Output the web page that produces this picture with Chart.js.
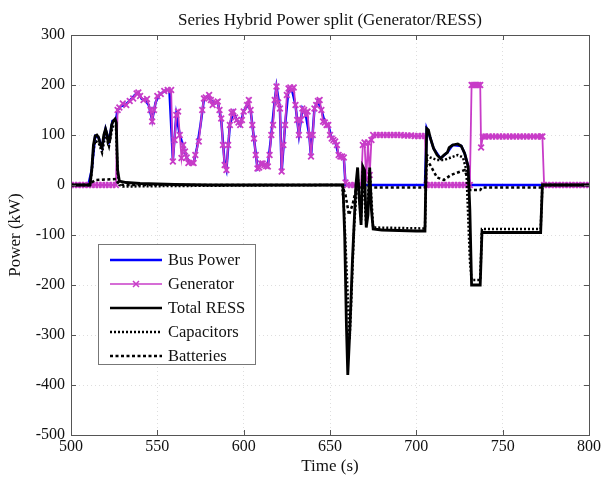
<!DOCTYPE html>
<html>
<head>
<meta charset="utf-8">
<script src="https://cdn.jsdelivr.net/npm/chart.js@4.4.1/dist/chart.umd.min.js"></script>
<style>
  html, body { margin: 0; padding: 0; background: #fff; }
  canvas { display: block; }
</style>
</head>
<body>
<canvas id="powerChart" width="603" height="478"></canvas>
<script>
// Generator output (kW)
var genTime = [500, 502, 504, 506, 508, 510, 512, 514, 516, 518, 520, 522, 524, 526,
  527, 528, 530, 532, 534, 536, 538, 539, 540, 542, 544, 546, 547, 548, 550, 552, 554, 556, 558,
  559, 560, 561, 562, 563, 564, 565, 566, 567, 568, 570, 571, 572, 574, 576, 577, 578, 580,
  581, 582, 584, 585, 586, 587, 588, 589, 590, 591, 592, 593, 594, 595, 596, 597, 598, 599, 600,
  602, 603, 604, 605, 606, 607, 608, 609, 610, 611, 612, 613, 614, 615, 616, 617, 618, 619, 620,
  621, 622, 623, 624, 625, 626, 627, 628, 629, 630, 631, 632, 633, 634, 635, 636, 637, 638, 639, 640,
  641, 642, 643, 644, 645, 646, 647, 648, 649, 650, 651, 652, 653, 654, 655, 656, 657, 658,
  659, 660, 662, 664, 666, 668, 669, 670, 671, 672, 673, 674,
  675, 677, 679, 681, 683, 685, 687, 689, 691, 693, 695, 697, 699, 701, 703, 705,
  706, 708, 710, 712, 714, 716, 718, 720, 722, 724, 726, 728, 730, 731,
  732, 733, 734, 735, 736, 737, 737.5, 738.5,
  740, 742, 744, 746, 748, 750, 752, 754, 756, 758, 760, 762, 764, 766, 768, 770, 772, 773,
  774, 776, 778, 780, 782, 784, 786, 788, 790, 792, 794, 796, 798, 800];
var genKW = [0, 0, 0, 0, 0, 0, 0, 0, 0, 0, 0, 0, 0, 0,
  150, 155, 163, 160, 168, 173, 183, 185, 178, 170, 172, 150, 127, 150, 178, 182, 188, 190, 190,
  47, 90, 140, 147, 100, 54, 80, 67, 55, 44, 45, 44, 60, 87, 150, 173, 175, 180,
  170, 160, 165, 167, 150, 133, 80, 40, 30, 80, 120, 145, 147, 135, 130, 125, 120, 130, 147,
  160, 170, 150, 120, 93, 60, 33, 35, 43, 43, 40, 38, 37, 60, 100, 120, 170, 197, 165,
  153, 27, 80, 120, 180, 193, 195, 190, 195, 160, 130, 100, 130, 153, 150, 140, 147, 100, 57, 100,
  153, 160, 168, 170, 150, 127, 125, 120, 120, 100, 93, 90, 87, 80, 60, 57, 57, 55,
  5, 0, 0, 0, 0, 0, 80, 85, 10, 85, 20, 90,
  100, 100, 100, 100, 100, 100, 100, 100, 100, 99, 99, 99, 98, 98, 98, 98,
  0, 0, 0, 0, 0, 0, 0, 0, 0, 0, 0, 0, 0, 0,
  200, 200, 200, 200, 200, 200, 75, 97,
  97, 97, 97, 97, 97, 97, 97, 97, 97, 97, 97, 97, 97, 97, 97, 97, 97, 97,
  0, 0, 0, 0, 0, 0, 0, 0, 0, 0, 0, 0, 0, 0];

// Bus power (kW), blue trace
var busTime = [500, 505, 510, 512, 514, 516, 518, 520, 522, 524, 526, 527,
  529, 531, 533, 535, 537, 539, 541, 543, 545, 547, 549, 551, 553, 555, 557,
  559, 561, 563, 565, 567, 569, 571, 573, 575, 577, 579, 581, 583, 585, 587, 589, 590,
  592, 594, 596, 598, 600, 602, 604, 606, 608, 610, 612, 614, 616, 618, 619, 621, 622,
  624, 626, 628, 630, 632, 634, 636, 638, 639, 641, 643, 645, 647, 649, 651, 653, 655, 657, 658,
  659, 665, 675, 690, 705, 706, 708, 710, 714, 718, 721, 726, 728, 730, 731, 750, 773, 800];
var busKW = [0, 0, 0, 30, 98, 95, 75, 112, 88, 128, 130, 150,
  158, 160, 165, 172, 180, 185, 172, 170, 160, 130, 165, 180, 185, 190, 190,
  50, 140, 100, 78, 55, 44, 44, 75, 120, 172, 178, 170, 162, 166, 130, 42, 30,
  120, 146, 130, 120, 147, 160, 150, 92, 33, 43, 40, 37, 100, 170, 197, 153, 27,
  120, 193, 190, 160, 100, 153, 140, 100, 57, 153, 168, 150, 125, 120, 93, 87, 60, 57, 55,
  0, 0, 0, 0, 0, 113, 95, 73, 53, 65, 80, 78, 63, 37, 0, 0, 0, 0];

// Total RESS (kW), solid black trace
var ressTime = [500, 511, 512, 513, 514, 515, 516, 517, 518, 519, 520, 521, 521.5, 522.5, 523.5,
  524.5, 525.5, 526.2, 527, 528, 532, 540, 550, 560, 580, 657.5,
  658.5, 659.5, 660.3, 661.5, 663, 665, 666, 667, 668, 669, 670, 671, 672, 673, 674, 675,
  680, 690, 700, 705, 706, 707, 708, 710, 712, 714, 716, 718, 719, 721, 724, 726, 728, 730,
  731, 732, 736, 737, 738, 740, 760, 772, 773, 800];
var ressKW = [0, 0, 30, 80, 98, 100, 95, 80, 75, 100, 112, 100, 85, 90, 120,
  128, 132, 125, 30, 8, 5, 3, 2, 1, 0, 0,
  -100, -280, -380, -290, -150, 0, 35, -30, -80, 37, 30, -85, -60, 35, -50, -88,
  -90, -91, -92, -92, 113, 110, 95, 73, 60, 53, 60, 65, 75, 80, 82, 78, 63, 37,
  -50, -200, -200, -200, -95, -95, -95, -95, 0, 0];

// Capacitors (kW), dotted
var capTime = [500, 511, 512, 513, 514, 516, 518, 520, 522, 524, 526, 527, 528, 530, 560, 600, 657,
  658, 660, 661.3, 662, 663, 664, 665, 666, 668, 669, 671, 673, 675, 705,
  706, 708, 712, 716, 720, 724, 727, 729, 731, 732, 737, 738, 772, 773, 800];
var capKW = [0, 0, 25, 70, 88, 85, 65, 102, 78, 116, 120, 25, 0, -3, -2, -1, 0,
  -40, -200, -310, -260, -170, -80, -30, 20, -70, 30, -80, 30, -85, -87,
  60, 55, 50, 50, 55, 60, 55, 30, -150, -190, -190, -88, -88, 0, 0];

// Batteries (kW), dashed
var batTime = [500, 511, 512, 514, 526, 527, 530, 657, 659, 661, 663, 665, 667, 675, 705,
  706, 708, 712, 716, 720, 724, 728, 730, 731, 737, 738, 772, 773, 800];
var batKW = [0, 0, 5, 10, 12, 5, 0, 0, -20, -60, -40, -10, -5, -5, -5,
  50, 40, 15, 10, 20, 25, 30, 10, -10, -10, -5, -5, 0, 0];

var seriesNames = ['Bus Power', 'Generator', 'Total RESS', 'Capacitors', 'Batteries'];
var xTicks = [500, 550, 600, 650, 700, 750, 800];
var yTicks = [-500, -400, -300, -200, -100, 0, 100, 200, 300];

var SERIF = '"Liberation Serif", "DejaVu Serif", serif';
var MAGENTA = '#c83cc8';

function toPoints(xs, ys) {
    var pts = [];
    for (var i = 0; i < xs.length; i++) pts.push({ x: xs[i], y: ys[i] });
    return pts;
}

// inner tick marks, axes box and the legend box drawn like the original figure
var framePlugin = {
    id: 'frame',
    afterDatasetsDraw: function(chart) {
        var ctx = chart.ctx;
        var a = chart.chartArea;
        var xs = chart.scales.x, ys = chart.scales.y;
        ctx.save();
        ctx.strokeStyle = '#555';
        ctx.lineWidth = 1;
        ctx.setLineDash([]);
        ctx.beginPath();
        xTicks.forEach(function(v) {
            var px = Math.round(xs.getPixelForValue(v)) + 0.5;
            ctx.moveTo(px, a.bottom); ctx.lineTo(px, a.bottom - 5);
            ctx.moveTo(px, a.top); ctx.lineTo(px, a.top + 5);
        });
        yTicks.forEach(function(v) {
            var py = Math.round(ys.getPixelForValue(v)) + 0.5;
            ctx.moveTo(a.left, py); ctx.lineTo(a.left + 5, py);
            ctx.moveTo(a.right, py); ctx.lineTo(a.right - 5, py);
        });
        ctx.stroke();
        ctx.strokeRect(Math.round(a.left) + 0.5, Math.round(a.top) + 0.5,
            Math.round(a.right - a.left), Math.round(a.bottom - a.top));

        // legend
        var bx = 98, by = 244, bw = 157, bh = 120;
        ctx.fillStyle = '#fff';
        ctx.fillRect(bx, by, bw, bh);
        ctx.strokeStyle = '#777';
        ctx.strokeRect(bx + 0.5, by + 0.5, bw, bh);
        var styles = [
            { color: '#0000ff', width: 2.5, dash: [] },
            { color: MAGENTA, width: 1.5, dash: [], marker: true },
            { color: '#000', width: 2.5, dash: [] },
            { color: '#000', width: 2.5, dash: [2, 2] },
            { color: '#000', width: 2.5, dash: [3, 2.5] }
        ];
        ctx.font = '16.5px ' + SERIF;
        ctx.textBaseline = 'middle';
        for (var i = 0; i < seriesNames.length; i++) {
            var y = by + 16 + i * 24;
            var s = styles[i];
            ctx.strokeStyle = s.color;
            ctx.lineWidth = s.width;
            ctx.setLineDash(s.dash);
            ctx.beginPath();
            ctx.moveTo(110, y); ctx.lineTo(162, y);
            ctx.stroke();
            ctx.setLineDash([]);
            if (s.marker) {
                ctx.beginPath();
                ctx.moveTo(133, y - 3); ctx.lineTo(139, y + 3);
                ctx.moveTo(139, y - 3); ctx.lineTo(133, y + 3);
                ctx.stroke();
            }
            ctx.fillStyle = '#111';
            ctx.fillText(seriesNames[i], 168, y + 1);
        }
        ctx.restore();
    }
};

var ctx = document.getElementById('powerChart').getContext('2d');
var powerChart = new Chart(ctx, {
    type: 'line',
    data: {
        datasets: [{
            label: seriesNames[0],
            data: toPoints(busTime, busKW),
            borderColor: '#0000ff',
            borderWidth: 2.5,
            pointRadius: 0,
            order: 5
        }, {
            label: seriesNames[1],
            data: toPoints(genTime, genKW),
            borderColor: MAGENTA,
            backgroundColor: MAGENTA,
            borderWidth: 1.8,
            pointStyle: 'crossRot',
            pointRadius: 4,
            pointBorderWidth: 1.8,
            pointBorderColor: MAGENTA,
            order: 4
        }, {
            label: seriesNames[2],
            data: toPoints(ressTime, ressKW),
            borderColor: '#000',
            borderWidth: 2.8,
            pointRadius: 0,
            order: 3
        }, {
            label: seriesNames[3],
            data: toPoints(capTime, capKW),
            borderColor: '#000',
            borderWidth: 2.5,
            borderDash: [2, 2],
            pointRadius: 0,
            order: 2
        }, {
            label: seriesNames[4],
            data: toPoints(batTime, batKW),
            borderColor: '#000',
            borderWidth: 2.5,
            borderDash: [3, 2.5],
            pointRadius: 0,
            order: 1
        }]
    },
    options: {
        responsive: false,
        animation: false,
        layout: { padding: { top: 0, right: 13, left: 0, bottom: 0 } },
        elements: { line: { tension: 0 } },
        plugins: {
            legend: { display: false },
            tooltip: { enabled: false },
            title: {
                display: true,
                fullSize: false,
                text: 'Series Hybrid Power split (Generator/RESS)',
                color: '#111',
                font: { family: SERIF, size: 17, weight: 'normal' },
                padding: { top: 10, bottom: 4.6 }
            }
        },
        scales: {
            x: {
                type: 'linear',
                min: 500,
                max: 800,
                afterBuildTicks: function(scale) {
                    scale.ticks = xTicks.map(function(v) { return { value: v }; });
                },
                afterFit: function(scale) { scale.height = 43; },
                ticks: {
                    color: '#111',
                    padding: 2,
                    maxRotation: 0,
                    font: { family: SERIF, size: 16 }
                },
                grid: { color: 'rgba(0,0,0,0.13)', drawTicks: false },
                border: { display: false, dash: [1, 3] },
                title: {
                    display: true,
                    text: 'Time (s)',
                    color: '#111',
                    font: { family: SERIF, size: 17 },
                    padding: { top: 0, bottom: 1.5 }
                }
            },
            y: {
                min: -500,
                max: 300,
                afterBuildTicks: function(scale) {
                    scale.ticks = yTicks.map(function(v) { return { value: v }; });
                },
                afterFit: function(scale) { scale.width = 71; },
                ticks: {
                    color: '#111',
                    padding: 6,
                    font: { family: SERIF, size: 16 }
                },
                grid: { color: 'rgba(0,0,0,0.13)', drawTicks: false },
                border: { display: false, dash: [1, 3] },
                title: {
                    display: true,
                    text: 'Power (kW)',
                    color: '#111',
                    font: { family: SERIF, size: 17 },
                    padding: { top: 5, bottom: 0 }
                }
            }
        }
    },
    plugins: [framePlugin]
});
</script>
</body>
</html>
